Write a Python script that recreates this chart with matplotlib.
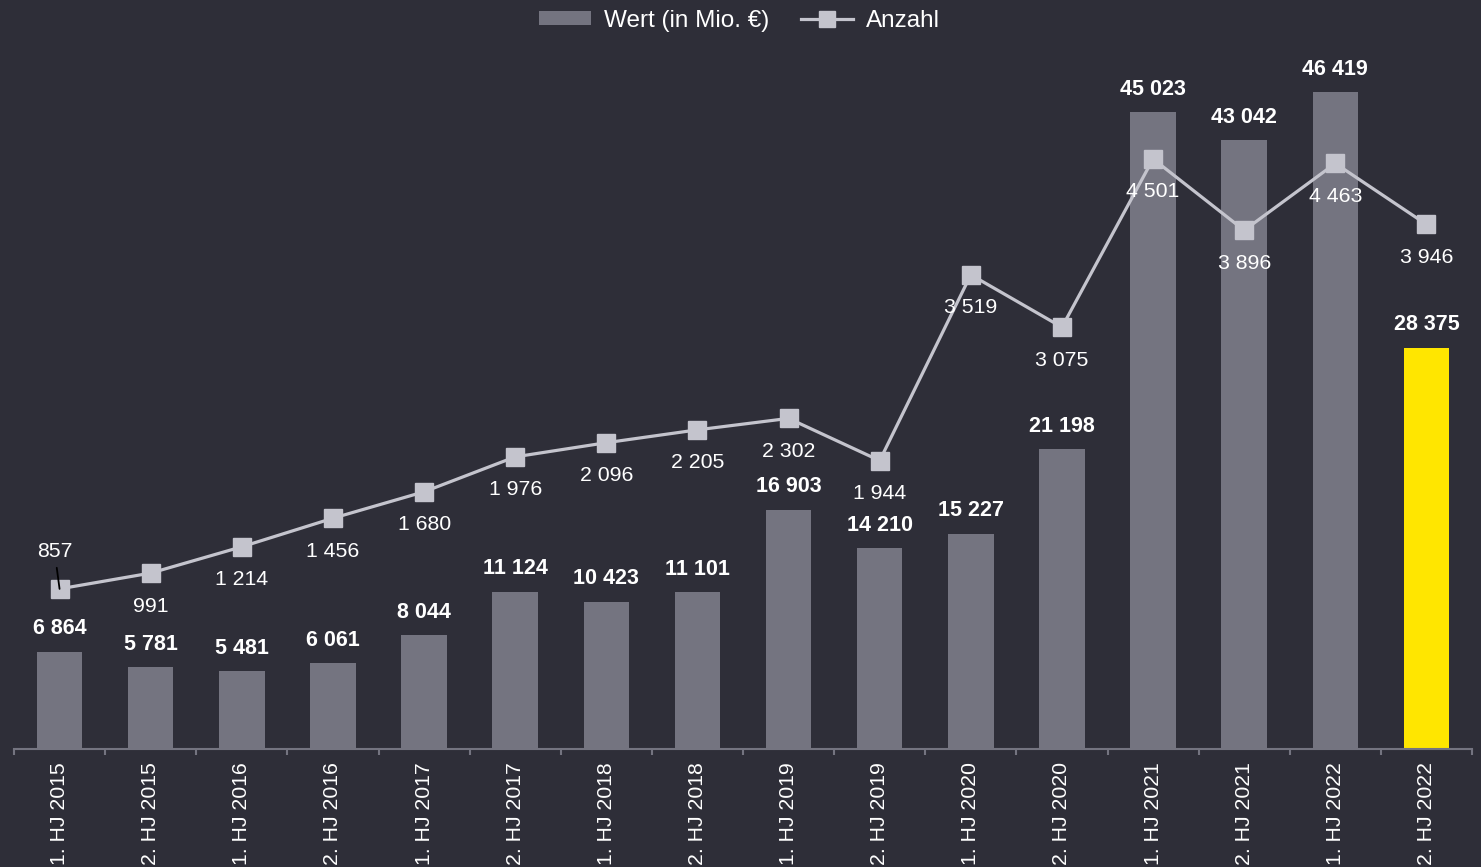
import matplotlib
matplotlib.use("Agg")
import matplotlib.pyplot as plt
from matplotlib.patches import Patch
from matplotlib.lines import Line2D
import numpy as np

categories = ["1. HJ 2015", "2. HJ 2015", "1. HJ 2016", "2. HJ 2016", "1. HJ 2017", "2. HJ 2017",
              "1. HJ 2018", "2. HJ 2018", "1. HJ 2019", "2. HJ 2019", "1. HJ 2020", "2. HJ 2020",
              "1. HJ 2021", "2. HJ 2021", "1. HJ 2022", "2. HJ 2022"]
wert = [6864, 5781, 5481, 6061, 8044, 11124, 10423, 11101, 16903, 14210, 15227, 21198,
        45023, 43042, 46419, 28375]
anzahl = [857, 991, 1214, 1456, 1680, 1976, 2096, 2205, 2302, 1944, 3519, 3075,
          4501, 3896, 4463, 3946]

BG = "#2e2e38"
BAR = "#747480"
YEL = "#ffe600"
LINE = "#c4c4cd"

plt.rcParams['font.family'] = ['Liberation Sans', 'DejaVu Sans']

def fmt(v):
    return f"{v:,}".replace(",", " ")

W, H = 1481, 867
fig = plt.figure(figsize=(W / 100, H / 100), dpi=100, facecolor=BG)
ax = fig.add_axes([14 / W, 118 / H, 1458 / W, 749 / H])
ax.set_facecolor(BG)

x = np.arange(len(categories))
colors = [BAR] * (len(categories) - 1) + [YEL]
bars = ax.bar(x, wert, width=0.5, color=colors, zorder=2)
ax.set_xlim(-0.5, len(categories) - 0.5)
ax.set_ylim(0, 52944)

for xi, v in zip(x, wert):
    ax.annotate(fmt(v), (xi, v), xytext=(0, 16.5), textcoords="offset points",
                ha="center", va="center", color="white", fontsize=15.5, fontweight="bold")

for s in ["top", "right", "left"]:
    ax.spines[s].set_visible(False)
ax.spines["bottom"].set_color(BAR)
ax.spines["bottom"].set_linewidth(1.5)
ax.set_yticks([])
ax.set_xticks(x)
ax.set_xticklabels(categories, rotation=90, color="white", fontsize=15.3)
ax.tick_params(axis="x", which="major", length=0, pad=9.5)
ax.set_xticks(np.arange(-0.5, len(categories), 1.0), minor=True)
ax.tick_params(axis="x", which="minor", length=4, width=1.5, color=BAR)

ax2 = ax.twinx()
ax2.set_ylim(-500, 5848)
ax2.set_yticks([])
for s in ax2.spines.values():
    s.set_visible(False)
ax2.plot(x, anzahl, color=LINE, lw=2.3, marker="s", markersize=13, zorder=3)

for i, (xi, v) in enumerate(zip(x, anzahl)):
    if i == 0:
        ax2.annotate(fmt(v), (xi, v), xytext=(-3.6, 27.0), textcoords="offset points",
                     ha="center", va="center", color="white", fontsize=15.3, zorder=5,
                     arrowprops=dict(arrowstyle="-", color="black", lw=1.3,
                                     shrinkA=3, shrinkB=0))
    else:
        ax2.annotate(fmt(v), (xi, v), xytext=(0, -23.8), textcoords="offset points",
                     ha="center", va="center", color="white", fontsize=15.3, zorder=5)

handles = [Patch(facecolor=BAR, edgecolor="none", label="Wert (in Mio. €)"),
           Line2D([], [], color=LINE, lw=2.3, marker="s", markersize=12, label="Anzahl")]
leg = fig.legend(handles=handles, loc="center", bbox_to_anchor=(0.4993, 1 - 21 / H), ncol=2,
                 frameon=False, fontsize=17.5, labelcolor="white", handlelength=2.14,
                 handletextpad=0.53, columnspacing=1.3, handleheight=0.5)

fig.savefig("out.png", dpi=100, facecolor=BG)
